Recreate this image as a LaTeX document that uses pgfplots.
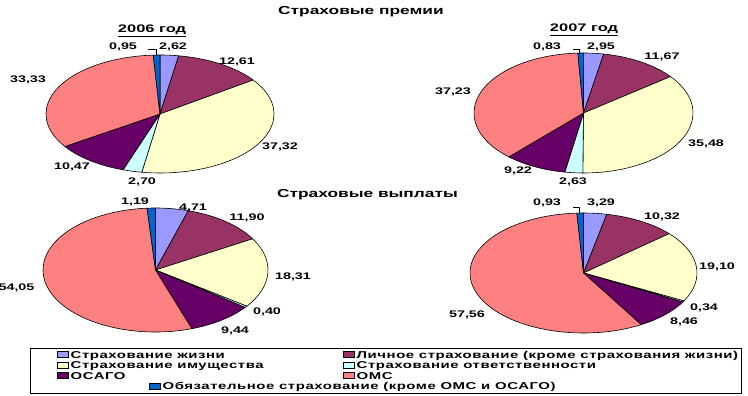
\documentclass[border=0pt]{standalone}
\usepackage{pgfplots}
\pgfplotsset{compat=1.18}
\usepackage{pgfplotstable}
\usepackage{fontspec}
\setmainfont{Liberation Sans}[FakeStretch=1.5]
\newfontfamily\legfont{Liberation Sans}[FakeStretch=1.5, LetterSpace=5.5]
\definecolor{cA}{HTML}{9999FF}
\definecolor{cB}{HTML}{993366}
\definecolor{cC}{HTML}{FFFFCC}
\definecolor{cD}{HTML}{CCFFFF}
\definecolor{cE}{HTML}{660066}
\definecolor{cF}{HTML}{FF8080}
\definecolor{cG}{HTML}{0066CC}

\pgfplotstableread{
v
2.62
12.61
37.32
2.70
10.47
33.33
0.95
}\premA
\pgfplotstableread{
v
2.95
11.67
35.48
2.63
9.22
37.23
0.83
}\premB
\pgfplotstableread{
v
4.71
11.90
18.31
0.40
9.44
54.05
1.19
}\vypA
\pgfplotstableread{
v
3.29
10.32
19.10
0.34
8.46
57.56
0.93
}\vypB

% #1 table, #2 cx, #3 cy, #4 rx, #5 ry
\newcommand\drawpie[5]{%
  \gdef\acc{0}%
  \foreach \i/\col in {0/cA,1/cB,2/cC,3/cD,4/cE,5/cF,6/cG}{%
    \pgfplotstablegetelem{\i}{v}\of#1%
    \pgfmathsetmacro\ta{90-3.6*\acc}%
    \pgfmathsetmacro\newacc{\acc+\pgfplotsretval}%
    \pgfmathsetmacro\tb{90-3.6*\newacc}%
    \xdef\acc{\newacc}%
    \filldraw[fill=\col, draw=black, line width=0.6pt, line join=round]
      (axis cs:#2,#3) -- ++(\ta:#4bp and #5bp)
      arc[start angle=\ta, end angle=\tb, x radius=#4bp, y radius=#5bp] -- cycle;
  }%
}
\newcommand\lab{\fontsize{9.6}{11}\selectfont\bfseries}
\newcommand\leg{\legfont\fontsize{10}{11}\selectfont\bfseries}
\newcommand\legentry[4]{% x-swatch, baseline y, color, text
  \filldraw[fill=#3, line width=0.5pt] (axis cs:#1,#2-6.7) rectangle (axis cs:#1+11,#2-0.7);
  \node[anchor=base west, inner sep=0pt] at (axis cs:#1+13.5,#2) {\leg #4};
}

\begin{document}
\begin{tikzpicture}
\begin{axis}[
  at={(0,0)}, anchor=south west,
  width=748bp, height=396bp, scale only axis,
  xmin=0, xmax=748, ymin=0, ymax=396, y dir=reverse,
  hide axis, clip=false]
\pgfplotsextra{%
  \drawpie{\premA}{160}{114}{114}{59}%
  \drawpie{\premB}{583.5}{113}{109.5}{60}%
  \drawpie{\vypA}{155.5}{270}{112.5}{62}%
  \drawpie{\vypB}{583.5}{273}{113.5}{60}%
}
% titles
\node[anchor=base] at (axis cs:361,15) {\fontsize{11.6}{13}\selectfont\bfseries Страховые премии};
\node[anchor=base] at (axis cs:367.5,197) {\fontsize{11.6}{13}\selectfont\bfseries Страховые выплаты};
\node[anchor=base] at (axis cs:152,32.3) {\fontsize{11}{12}\selectfont\bfseries \underline{2006 год}};
\node[anchor=base] at (axis cs:584,32) {\fontsize{11}{12}\selectfont\bfseries \underline{2007 год}};
% labels top-left
\node at (axis cs:123,47) {\lab 0,95};
\node at (axis cs:173,47) {\lab 2,62};
\node at (axis cs:237,62) {\lab 12,61};
\node at (axis cs:280,147) {\lab 37,32};
\node at (axis cs:142,182) {\lab 2,70};
\node at (axis cs:72,167) {\lab 10,47};
\node at (axis cs:28,80) {\lab 33,33};
\draw[line width=0.6pt] (axis cs:148,49) -- (axis cs:156,49) -- (axis cs:156,55);
% labels top-right
\node at (axis cs:547,47) {\lab 0,83};
\node at (axis cs:601,47) {\lab 2,95};
\node at (axis cs:662,57) {\lab 11,67};
\node at (axis cs:706,144) {\lab 35,48};
\node at (axis cs:573,182) {\lab 2,63};
\node at (axis cs:518,171) {\lab 9,22};
\node at (axis cs:453,92) {\lab 37,23};
\draw[line width=0.6pt] (axis cs:573,49) -- (axis cs:579,49) -- (axis cs:579,54);
% labels bottom-left
\node at (axis cs:135,202) {\lab 1,19};
\node at (axis cs:193,208) {\lab 4,71};
\node at (axis cs:247,218) {\lab 11,90};
\node at (axis cs:293,277) {\lab 18,31};
\node at (axis cs:267,312) {\lab 0,40};
\node at (axis cs:235,331) {\lab 9,44};
\node at (axis cs:16.5,288) {\lab 54,05};
% labels bottom-right
\node at (axis cs:547,203) {\lab 0,93};
\node at (axis cs:601,203) {\lab 3,29};
\node at (axis cs:662,217) {\lab 10,32};
\node at (axis cs:717,267) {\lab 19,10};
\node at (axis cs:704,308) {\lab 0,34};
\node at (axis cs:684,322) {\lab 8,46};
\node at (axis cs:467,315) {\lab 57,56};
\draw[line width=0.6pt] (axis cs:573,207) -- (axis cs:579,207) -- (axis cs:579,213);
% legend
\draw[line width=0.8pt] (axis cs:30,348) rectangle (axis cs:741,393);
\legentry{57}{358}{cA}{Страхование жизни}
\legentry{343}{358}{cB}{Личное страхование (кроме страхования жизни)}
\legentry{57}{368.6}{cC}{Страхование имущества}
\legentry{343}{368.6}{cD}{Страхование ответственности}
\legentry{57}{379}{cE}{ОСАГО}
\legentry{343}{379}{cF}{ОМС}
\legentry{149}{389.6}{cG}{Обязательное страхование (кроме ОМС и ОСАГО)}
\end{axis}
\pgfresetboundingbox
\path (0,0) rectangle (748bp,396bp);
\end{tikzpicture}
\end{document}
